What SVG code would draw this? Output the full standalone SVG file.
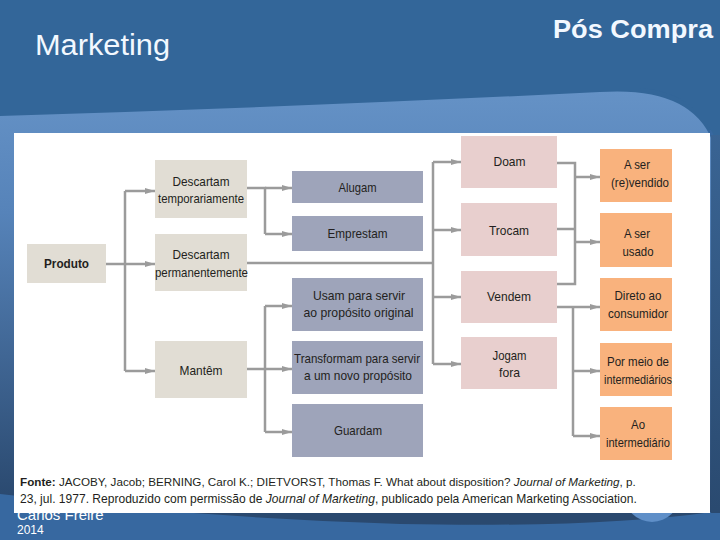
<svg xmlns="http://www.w3.org/2000/svg" width="720" height="540" viewBox="0 0 720 540">
  <defs>
    <linearGradient id="bandGrad" x1="0" y1="90" x2="0" y2="500" gradientUnits="userSpaceOnUse">
      <stop offset="0" stop-color="#6592c6"/>
      <stop offset="0.3" stop-color="#5683b9"/>
      <stop offset="1" stop-color="#2a496f"/>
    </linearGradient>
    <linearGradient id="rightGrad" x1="0" y1="120" x2="0" y2="510" gradientUnits="userSpaceOnUse">
      <stop offset="0" stop-color="#3a6595"/>
      <stop offset="1" stop-color="#2a4a70"/>
    </linearGradient>
    <marker id="arr" viewBox="0 0 10 6" refX="10" refY="3" markerWidth="10" markerHeight="6" markerUnits="userSpaceOnUse" orient="auto">
      <path d="M0,0 L10,3 L0,6 Z" fill="#9b9b9b"/>
    </marker>
    <style>
      .bg-dark { fill: #336699; }
      .title { font-family: "Liberation Sans", Arial, sans-serif; fill: #f2f8ff; }
      .box-beige { fill: #e1ddd4; }
      .box-grey { fill: #9ea4ba; }
      .box-pink { fill: #e8cfce; }
      .box-orange { fill: #f9b27d; }
      .lbl { font-family: "Liberation Sans", Arial, sans-serif; font-size: 13px; fill: #231f20; text-anchor: middle; }
      .bold { font-weight: bold; }
      .ital { font-style: italic; }
      .conn { fill: none; stroke: #9b9b9b; stroke-width: 2.5; }
      .src { font-family: "Liberation Sans", Arial, sans-serif; fill: #231f20; }
      .footer { font-family: "Liberation Sans", Arial, sans-serif; fill: #ffffff; }
    </style>
  </defs>

  <!-- background -->
  <rect x="0" y="0" width="720" height="540" fill="#3768a0"/>
  <rect x="0" y="0" width="720" height="130" class="bg-dark"/>
  <path d="M0,116 Q300,107 600,92 Q690,86 712,140 L712,512 Q600,528 400,524 Q200,518 0,494 Z" fill="url(#bandGrad)"/>
  <path d="M640,88 Q700,92 720,150 L720,88 Z" class="bg-dark"/>
  <rect x="711" y="135" width="9" height="378" fill="url(#rightGrad)"/>
  <circle cx="652" cy="494" r="28" fill="#5f8fc8"/>

  <text x="35" y="55" class="title" font-size="30" textLength="135" lengthAdjust="spacingAndGlyphs">Marketing</text>
  <text x="553" y="38" class="title" font-size="26" font-weight="bold" textLength="160" lengthAdjust="spacingAndGlyphs">Pós Compra</text>

  <text x="17" y="520" class="footer" font-size="15">Carlos Freire</text>
  <text x="17" y="534" class="footer" font-size="12">2014</text>

  <!-- panel -->
  <rect x="14" y="133" width="696" height="380" fill="#ffffff"/>

  <!-- connectors -->
  <g id="connectors">
    <path class="conn" d="M106,264 H155" marker-end="url(#arr)"/>
    <path class="conn" d="M125,191 V371"/>
    <path class="conn" d="M125,191 H155" marker-end="url(#arr)"/>
    <path class="conn" d="M125,371 H155" marker-end="url(#arr)"/>

    <path class="conn" d="M247,188 H265 V234"/>
    <path class="conn" d="M265,188 H292" marker-end="url(#arr)"/>
    <path class="conn" d="M265,234 H292" marker-end="url(#arr)"/>

    <path class="conn" d="M247,263 H433"/>
    <path class="conn" d="M433,162 V364"/>
    <path class="conn" d="M433,162 H461" marker-end="url(#arr)"/>
    <path class="conn" d="M433,230 H461" marker-end="url(#arr)"/>
    <path class="conn" d="M433,297 H461" marker-end="url(#arr)"/>
    <path class="conn" d="M433,364 H461" marker-end="url(#arr)"/>

    <path class="conn" d="M247,369 H265"/>
    <path class="conn" d="M265,306 V432"/>
    <path class="conn" d="M265,306 H292" marker-end="url(#arr)"/>
    <path class="conn" d="M265,369 H292" marker-end="url(#arr)"/>
    <path class="conn" d="M265,432 H292" marker-end="url(#arr)"/>

    <path class="conn" d="M557,163 H575 V284 H557"/>
    <path class="conn" d="M557,229 H575"/>
    <path class="conn" d="M575,177 H600" marker-end="url(#arr)"/>
    <path class="conn" d="M575,242 H600" marker-end="url(#arr)"/>

    <path class="conn" d="M557,307 H600" marker-end="url(#arr)"/>
    <path class="conn" d="M573,307 V436"/>
    <path class="conn" d="M573,371 H600" marker-end="url(#arr)"/>
    <path class="conn" d="M573,436 H600" marker-end="url(#arr)"/>
  </g>

  <!-- column 1 -->
  <g id="produto">
    <rect x="27" y="244" width="79" height="39" class="box-beige"/>
    <text x="66.5" y="268" class="lbl bold" textLength="45" lengthAdjust="spacingAndGlyphs">Produto</text>
  </g>

  <!-- column 2 -->
  <g id="descartam-temp">
    <rect x="155" y="160" width="92" height="58" class="box-beige"/>
    <text x="201" y="186" class="lbl" textLength="57" lengthAdjust="spacingAndGlyphs">Descartam</text>
    <text x="201" y="203" class="lbl" textLength="86" lengthAdjust="spacingAndGlyphs">temporariamente</text>
  </g>
  <g id="descartam-perm">
    <rect x="155" y="234" width="92" height="57" class="box-beige"/>
    <text x="201" y="259" class="lbl" textLength="57" lengthAdjust="spacingAndGlyphs">Descartam</text>
    <text x="201.5" y="277" class="lbl" textLength="93" lengthAdjust="spacingAndGlyphs">permanentemente</text>
  </g>
  <g id="mantem">
    <rect x="155" y="341" width="92" height="57" class="box-beige"/>
    <text x="201" y="375" class="lbl" textLength="43" lengthAdjust="spacingAndGlyphs">Mantêm</text>
  </g>

  <!-- column 3 -->
  <g id="alugam">
    <rect x="292" y="171" width="131" height="32" class="box-grey"/>
    <text x="357.5" y="192" class="lbl" textLength="38" lengthAdjust="spacingAndGlyphs">Alugam</text>
  </g>
  <g id="emprestam">
    <rect x="292" y="216" width="131" height="35" class="box-grey"/>
    <text x="357.5" y="238" class="lbl" textLength="60" lengthAdjust="spacingAndGlyphs">Emprestam</text>
  </g>
  <g id="usam">
    <rect x="292" y="278" width="131" height="53" class="box-grey"/>
    <text x="359" y="300" class="lbl" textLength="92" lengthAdjust="spacingAndGlyphs">Usam para servir</text>
    <text x="358.5" y="317" class="lbl" textLength="110" lengthAdjust="spacingAndGlyphs">ao propósito original</text>
  </g>
  <g id="transformam">
    <rect x="292" y="341" width="131" height="53" class="box-grey"/>
    <text x="357" y="363" class="lbl" textLength="126" lengthAdjust="spacingAndGlyphs">Transformam para servir</text>
    <text x="358" y="380" class="lbl" textLength="108" lengthAdjust="spacingAndGlyphs">a um novo propósito</text>
  </g>
  <g id="guardam">
    <rect x="292" y="404" width="131" height="53" class="box-grey"/>
    <text x="358" y="435" class="lbl" textLength="48" lengthAdjust="spacingAndGlyphs">Guardam</text>
  </g>

  <!-- column 4 -->
  <g id="doam">
    <rect x="461" y="136" width="96" height="52" class="box-pink"/>
    <text x="509.5" y="166" class="lbl" textLength="32" lengthAdjust="spacingAndGlyphs">Doam</text>
  </g>
  <g id="trocam">
    <rect x="461" y="203" width="96" height="53" class="box-pink"/>
    <text x="509" y="235" class="lbl" textLength="40" lengthAdjust="spacingAndGlyphs">Trocam</text>
  </g>
  <g id="vendem">
    <rect x="461" y="271" width="96" height="52" class="box-pink"/>
    <text x="509" y="301" class="lbl" textLength="44" lengthAdjust="spacingAndGlyphs">Vendem</text>
  </g>
  <g id="jogam">
    <rect x="461" y="337" width="96" height="52" class="box-pink"/>
    <text x="509.5" y="360" class="lbl" textLength="34" lengthAdjust="spacingAndGlyphs">Jogam</text>
    <text x="509.5" y="377" class="lbl" textLength="21" lengthAdjust="spacingAndGlyphs">fora</text>
  </g>

  <!-- column 5 -->
  <g id="revendido">
    <rect x="600" y="149" width="72" height="53" class="box-orange"/>
    <text x="637" y="169" class="lbl" textLength="26" lengthAdjust="spacingAndGlyphs">A ser</text>
    <text x="640" y="187" class="lbl" textLength="58" lengthAdjust="spacingAndGlyphs">(re)vendido</text>
  </g>
  <g id="usado">
    <rect x="600" y="213" width="72" height="54" class="box-orange"/>
    <text x="637" y="238" class="lbl" textLength="26" lengthAdjust="spacingAndGlyphs">A ser</text>
    <text x="638" y="256" class="lbl" textLength="31" lengthAdjust="spacingAndGlyphs">usado</text>
  </g>
  <g id="direto">
    <rect x="600" y="278" width="72" height="53" class="box-orange"/>
    <text x="638" y="300" class="lbl" textLength="47" lengthAdjust="spacingAndGlyphs">Direto ao</text>
    <text x="638" y="318" class="lbl" textLength="60" lengthAdjust="spacingAndGlyphs">consumidor</text>
  </g>
  <g id="por-meio">
    <rect x="600" y="343" width="72" height="53" class="box-orange"/>
    <text x="638" y="366" class="lbl" textLength="62" lengthAdjust="spacingAndGlyphs">Por meio de</text>
    <text x="638" y="384" class="lbl" textLength="68" lengthAdjust="spacingAndGlyphs">intermediários</text>
  </g>
  <g id="ao-intermediario">
    <rect x="600" y="407" width="72" height="53" class="box-orange"/>
    <text x="638" y="429" class="lbl" textLength="14" lengthAdjust="spacingAndGlyphs">Ao</text>
    <text x="638" y="447" class="lbl" textLength="64" lengthAdjust="spacingAndGlyphs">intermediário</text>
  </g>

  <!-- source -->
  <g id="source">
    <text x="20" y="486" class="src" font-size="11.68"><tspan class="bold">Fonte:</tspan> JACOBY, Jacob; BERNING, Carol K.; DIETVORST, Thomas F. What about disposition? <tspan class="ital">Journal of Marketing</tspan>, p.</text>
    <text x="20" y="503" class="src" font-size="12.05">23, jul. 1977. Reproduzido com permissão de <tspan class="ital">Journal of Marketing</tspan>, publicado pela American Marketing Association.</text>
  </g>
</svg>
